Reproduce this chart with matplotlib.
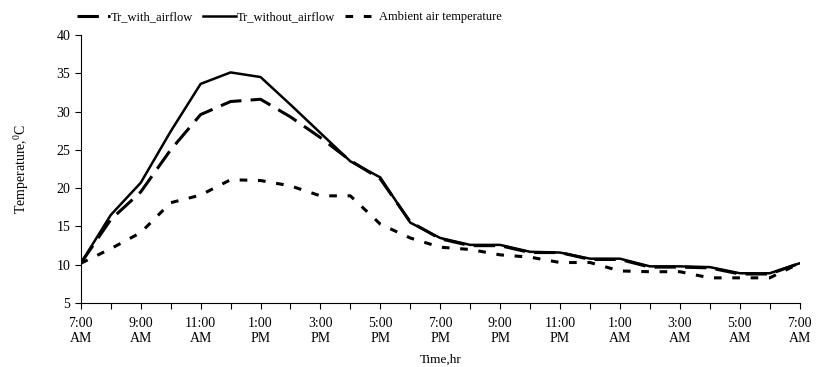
import numpy as np
import matplotlib
matplotlib.use("Agg")
import matplotlib.pyplot as plt

plt.rcParams['font.family'] = ['Liberation Serif', 'DejaVu Serif']
plt.rcParams['mathtext.fontset'] = 'custom'
plt.rcParams['mathtext.rm'] = 'Liberation Serif'

# hourly readings, 7:00 AM to 7:00 AM next day
hours = np.arange(25)
tr_with_airflow = [10.2, 15.9, 19.5, 25.0, 29.6, 31.3, 31.6, 29.3, 26.6, 23.6, 21.2, 15.6, 13.4,
                   12.5, 12.5, 11.6, 11.6, 10.7, 10.7, 9.7, 9.7, 9.6, 8.8, 8.8, 10.2]
tr_without_airflow = [10.2, 16.5, 20.7, 27.4, 33.6, 35.1, 34.5, 30.9, 27.2, 23.5, 21.4, 15.5, 13.5,
                      12.6, 12.6, 11.7, 11.6, 10.8, 10.8, 9.8, 9.8, 9.7, 8.9, 8.9, 10.2]
ambient = [10.2, 12.1, 14.2, 18.1, 19.1, 21.1, 21.0, 20.3, 19.0, 19.0, 15.3, 13.5, 12.3,
           12.0, 11.3, 11.0, 10.3, 10.3, 9.2, 9.1, 9.1, 8.3, 8.3, 8.3, 10.2]
tick_labels = ["7:00\nAM", "9:00\nAM", "11:00\nAM", "1:00\nPM", "3:00\nPM", "5:00\nPM", "7:00\nPM",
               "9:00\nPM", "11:00\nPM", "1:00\nAM", "3:00\nAM", "5:00\nAM", "7:00\nAM"]

fig = plt.figure(figsize=(8.16, 3.67), dpi=100)
ax = fig.add_axes([0.099, 0.174, 0.881, 0.731])

ax.plot(hours, tr_with_airflow, color='black', lw=2.2, dashes=(7, 3), label='Tr_with_airflow')
ax.plot(hours, tr_without_airflow, color='black', lw=1.8, label='Tr_without_airflow')
ax.plot(hours, ambient, color='black', lw=2.2, dashes=(2.5, 3.5), label='Ambient air temperature')

ax.set_xlim(0, 24)
ax.set_ylim(5, 40)
ax.set_yticks(np.arange(5, 41, 5))
ax.set_xticks(hours[::2])
ax.set_xticklabels(tick_labels)
ax.set_xticks(hours, minor=True)
ax.tick_params(axis='both', which='both', direction='out', length=4, width=0.8, labelsize=10)
ax.tick_params(axis='x', pad=6)
for s in ['top', 'right']:
    ax.spines[s].set_visible(False)

ax.set_xlabel('Time,hr', fontsize=9.5, labelpad=6)
ax.set_ylabel('Temperature,$^{0}$C', fontsize=10, labelpad=18)

ax.legend(loc='center', bbox_to_anchor=(0.29, 1.067), ncol=3, frameon=False, fontsize=9,
          handlelength=2.6, handletextpad=0.1, columnspacing=0.8)

fig.savefig('out.png', dpi=100)
